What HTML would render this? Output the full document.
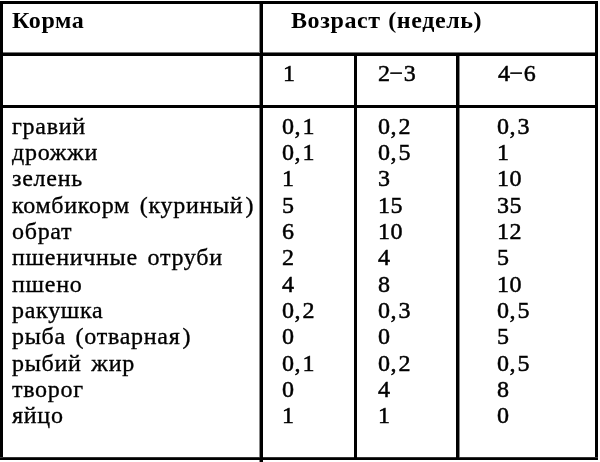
<!DOCTYPE html>
<html><head><meta charset="utf-8"><style>
html,body{margin:0;padding:0;background:#fff;width:600px;height:462px;overflow:hidden;position:relative}
.l{position:absolute;background:#000}
.t{position:absolute;will-change:transform;font-family:"Liberation Serif",serif;font-size:24px;line-height:26.57px;white-space:pre;color:#000;word-spacing:3px;letter-spacing:0.6px;-webkit-text-stroke:0.35px #000}
.b{font-weight:bold;word-spacing:1px;-webkit-text-stroke:0}
.p{margin-left:2px}
.c{margin-right:1.4px}
.n{letter-spacing:0.72px}
.d{-webkit-text-stroke:0.5px #000}
.m{margin-left:-1px}
</style></head><body>
<div class="l" style="left:0px;top:52px;width:598px;height:1px;background:#777"></div>
<div class="l" style="left:259px;top:1px;width:1px;height:461px;background:#888"></div>
<div class="l" style="left:459px;top:55px;width:1px;height:404px;background:#888"></div>
<div class="l" style="left:0px;top:1px;width:598px;height:3px"></div>
<div class="l" style="left:0px;top:1px;width:3px;height:459px"></div>
<div class="l" style="left:595px;top:1px;width:3px;height:459px"></div>
<div class="l" style="left:0px;top:458px;width:598px;height:2px"></div>
<div class="l" style="left:0px;top:457px;width:598px;height:1px;background:#333"></div>
<div class="l" style="left:0px;top:53px;width:598px;height:3px"></div>
<div class="l" style="left:0px;top:105px;width:598px;height:3px"></div>
<div class="l" style="left:260px;top:1px;width:3px;height:461px"></div>
<div class="l" style="left:354px;top:55px;width:3px;height:404px"></div>
<div class="l" style="left:456px;top:55px;width:3px;height:404px"></div>
<div class="t b" style="left:12px;top:6.62px">Корма</div>
<div class="t b" style="left:291px;top:6.62px">Возраст (недель)</div>
<div class="t d" style="left:282.8px;top:59.62px">1</div>
<div class="t d" style="left:378px;top:59.62px">2<span class=m>−</span>3</div>
<div class="t d" style="left:498px;top:59.62px">4<span class=m>−</span>6</div>
<div class="t n" style="left:11.5px;top:112.62px">гравий</div>
<div class="t d" style="left:282.3px;top:112.62px">0<span class=c>,</span>1</div>
<div class="t d" style="left:377.5px;top:112.62px">0<span class=c>,</span>2</div>
<div class="t d" style="left:497.3px;top:112.62px">0<span class=c>,</span>3</div>
<div class="t n" style="left:11.5px;top:138.94px">дрожжи</div>
<div class="t d" style="left:282.3px;top:138.94px">0<span class=c>,</span>1</div>
<div class="t d" style="left:377.5px;top:138.94px">0<span class=c>,</span>5</div>
<div class="t d" style="left:497.3px;top:138.94px">1</div>
<div class="t n" style="left:11.5px;top:165.26px">зелень</div>
<div class="t d" style="left:282.3px;top:165.26px">1</div>
<div class="t d" style="left:377.5px;top:165.26px">3</div>
<div class="t d" style="left:497.3px;top:165.26px">10</div>
<div class="t n" style="left:11.5px;top:191.58px">комбикорм (куриный<span class=p>)</span></div>
<div class="t d" style="left:282.3px;top:191.58px">5</div>
<div class="t d" style="left:377.5px;top:191.58px">15</div>
<div class="t d" style="left:497.3px;top:191.58px">35</div>
<div class="t n" style="left:11.5px;top:217.90px">обрат</div>
<div class="t d" style="left:282.3px;top:217.90px">6</div>
<div class="t d" style="left:377.5px;top:217.90px">10</div>
<div class="t d" style="left:497.3px;top:217.90px">12</div>
<div class="t n" style="left:11.5px;top:244.22px">пшеничные отруби</div>
<div class="t d" style="left:282.3px;top:244.22px">2</div>
<div class="t d" style="left:377.5px;top:244.22px">4</div>
<div class="t d" style="left:497.3px;top:244.22px">5</div>
<div class="t n" style="left:11.5px;top:270.54px">пшено</div>
<div class="t d" style="left:282.3px;top:270.54px">4</div>
<div class="t d" style="left:377.5px;top:270.54px">8</div>
<div class="t d" style="left:497.3px;top:270.54px">10</div>
<div class="t n" style="left:11.5px;top:296.86px">ракушка</div>
<div class="t d" style="left:282.3px;top:296.86px">0<span class=c>,</span>2</div>
<div class="t d" style="left:377.5px;top:296.86px">0<span class=c>,</span>3</div>
<div class="t d" style="left:497.3px;top:296.86px">0<span class=c>,</span>5</div>
<div class="t n" style="left:11.5px;top:323.18px">рыба (отварная<span class=p>)</span></div>
<div class="t d" style="left:282.3px;top:323.18px">0</div>
<div class="t d" style="left:377.5px;top:323.18px">0</div>
<div class="t d" style="left:497.3px;top:323.18px">5</div>
<div class="t n" style="left:11.5px;top:349.50px">рыбий жир</div>
<div class="t d" style="left:282.3px;top:349.50px">0<span class=c>,</span>1</div>
<div class="t d" style="left:377.5px;top:349.50px">0<span class=c>,</span>2</div>
<div class="t d" style="left:497.3px;top:349.50px">0<span class=c>,</span>5</div>
<div class="t n" style="left:11.5px;top:375.82px">творог</div>
<div class="t d" style="left:282.3px;top:375.82px">0</div>
<div class="t d" style="left:377.5px;top:375.82px">4</div>
<div class="t d" style="left:497.3px;top:375.82px">8</div>
<div class="t n" style="left:11.5px;top:402.14px">яйцо</div>
<div class="t d" style="left:282.3px;top:402.14px">1</div>
<div class="t d" style="left:377.5px;top:402.14px">1</div>
<div class="t d" style="left:497.3px;top:402.14px">0</div>
</body></html>
